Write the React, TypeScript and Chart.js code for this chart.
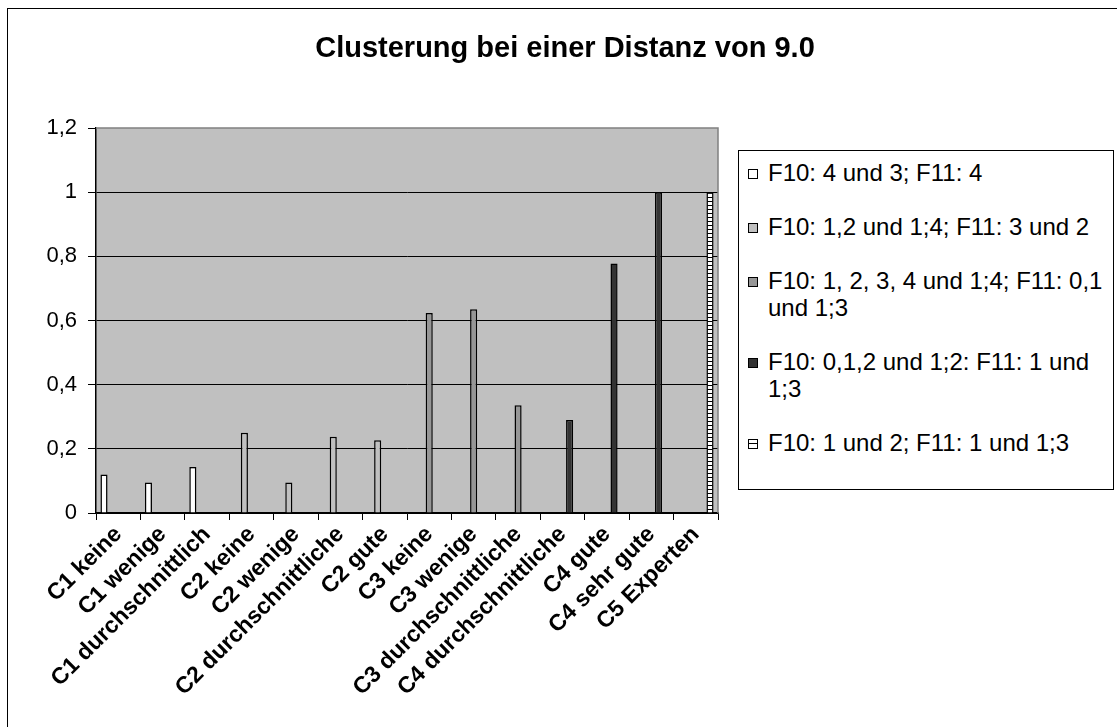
import React, { useEffect, useRef } from "react";
import { Chart, registerables } from "chart.js";

Chart.register(...registerables);

const TITLE = "Clusterung bei einer Distanz von 9.0";

const categories = [
  "C1 keine",
  "C1 wenige",
  "C1 durchschnittlich",
  "C2 keine",
  "C2 wenige",
  "C2 durchschnittliche",
  "C2 gute",
  "C3 keine",
  "C3 wenige",
  "C3 durchschnittliche",
  "C4 durchschnittliche",
  "C4 gute",
  "C4 sehr gute",
  "C5 Experten",
];

const seriesNames = [
  "F10: 4 und 3; F11: 4",
  "F10: 1,2 und 1;4; F11: 3 und 2",
  "F10: 1, 2, 3, 4 und 1;4; F11: 0,1 und 1;3",
  "F10: 0,1,2 und 1;2: F11: 1 und 1;3",
  "F10: 1 und 2; F11: 1 und 1;3",
];

const series1 = [0.12, 0.095, 0.143, null, null, null, null, null, null, null, null, null, null, null];
const series2 = [null, null, null, 0.25, 0.095, 0.238, 0.227, null, null, null, null, null, null, null];
const series3 = [null, null, null, null, null, null, null, 0.623, 0.635, 0.336, null, null, null, null];
const series4 = [null, null, null, null, null, null, null, null, null, null, 0.29, 0.778, 1.0, null];
const series5 = [null, null, null, null, null, null, null, null, null, null, null, null, null, 1.0];

const yTicks = [0, 0.2, 0.4, 0.6, 0.8, 1, 1.2];

const seriesColors = ["#ffffff", "#c0c0c0", "#969696", "#333333", "pattern"];

const FONT = "'Liberation Sans', Arial, sans-serif";

export default function App() {
  const ref = useRef<HTMLCanvasElement>(null);

  useEffect(() => {
    const canvas = ref.current!;
    const tile = document.createElement("canvas");
    tile.width = 4;
    tile.height = 4;
    const tctx = tile.getContext("2d")!;
    tctx.fillStyle = "#ffffff";
    tctx.fillRect(0, 0, 4, 4);
    tctx.fillStyle = "#000000";
    tctx.fillRect(0, 0, 4, 1);
    const pattern = canvas.getContext("2d")!.createPattern(tile, "repeat");

    const allSeries = [series1, series2, series3, series4, series5];

    const plotBg = {
      id: "plotBg",
      beforeDraw(chart: any) {
        const { ctx, chartArea } = chart;
        ctx.save();
        ctx.fillStyle = "#c0c0c0";
        ctx.fillRect(chartArea.left, chartArea.top, chartArea.right - chartArea.left, chartArea.bottom - chartArea.top);
        ctx.restore();
      },
      afterDraw(chart: any) {
        const { ctx, chartArea } = chart;
        ctx.save();
        ctx.strokeStyle = "#808080";
        ctx.lineWidth = 1.5;
        ctx.beginPath();
        ctx.moveTo(chartArea.left, chartArea.top);
        ctx.lineTo(chartArea.right, chartArea.top);
        ctx.lineTo(chartArea.right, chartArea.bottom);
        ctx.stroke();
        ctx.restore();
      },
    };

    const chart = new Chart(canvas, {
      type: "bar",
      data: {
        labels: categories,
        datasets: allSeries.map((s, i) => ({
          label: seriesNames[i],
          data: s,
          backgroundColor: seriesColors[i] === "pattern" ? (pattern as any) : seriesColors[i],
          borderColor: "#000000",
          borderWidth: 1.5,
          categoryPercentage: 0.8,
          barPercentage: 1.0,
          yAxisID: "y",
        })),
      },
      options: {
        animation: false,
        responsive: false,
        layout: { padding: 0 },
        plugins: {
          legend: { display: false },
          tooltip: { enabled: false },
          title: {
            display: true,
            text: TITLE,
            color: "#000000",
            font: { family: FONT, size: 29, weight: "bold", lineHeight: 1.2 },
            padding: { top: 22.6, bottom: 61.6 },
          },
        },
        scales: {
          x: {
            offset: true,
            grid: {
              offset: true,
              drawOnChartArea: false,
              drawTicks: true,
              tickLength: 7,
              tickColor: "#000000",
              lineWidth: 1,
            },
            border: { display: true, color: "#000000", width: 1.5 },
            ticks: {
              autoSkip: false,
              maxRotation: 45,
              minRotation: 45,
              color: "#000000",
              font: { family: FONT, size: 23, weight: "bold" },
              padding: 1,
            },
            afterFit(scale: any) {
              scale.height = 214;
            },
          },
          y: {
            min: 0,
            max: 1.2,
            afterBuildTicks(scale: any) {
              scale.ticks = yTicks.map((v) => ({ value: v }));
            },
            grid: {
              color: (ctx: any) => (ctx.tick && ctx.tick.value === 1.2 ? "rgba(0,0,0,0)" : "#000000"),
              tickColor: "#000000",
              tickLength: 8,
              lineWidth: 1,
            },
            border: { display: true, color: "#000000", width: 1.5 },
            ticks: {
              color: "#000000",
              font: { family: FONT, size: 22 },
              padding: 11,
              callback: (v: any) => String(Math.round(Number(v) * 10) / 10).replace(".", ","),
            },
            afterFit(scale: any) {
              scale.width = 88;
            },
          },
          legendSpace: {
            type: "linear",
            position: "right",
            display: true,
            grid: { display: false, drawTicks: false },
            border: { display: false },
            ticks: { display: false },
            afterFit(scale: any) {
              scale.width = 404;
            },
          },
        },
      },
      plugins: [plotBg],
    });
    return () => chart.destroy();
  }, []);

  const marker = (i: number): React.CSSProperties => {
    const base: React.CSSProperties = {
      width: 10,
      height: 10,
      border: "1px solid #000",
      boxSizing: "border-box",
      flex: "0 0 auto",
      marginTop: 10,
      marginRight: 10,
    };
    if (seriesColors[i] === "pattern") {
      base.background = "linear-gradient(to bottom, #fff 0, #fff 3px, #000 3px, #000 4px, #fff 4px)";
    } else {
      base.background = seriesColors[i];
    }
    return base;
  };

  return (
    <div
      style={{
        position: "absolute",
        left: 7,
        top: 8,
        width: 1110,
        height: 719,
        borderLeft: "1px solid #000",
        borderTop: "1px solid #000",
        boxSizing: "border-box",
        background: "#fff",
        overflow: "hidden",
      }}
    >
      <canvas ref={ref} width={1114} height={718} style={{ display: "block" }} />
      <div
        style={{
          position: "absolute",
          left: 730,
          top: 141,
          width: 376,
          height: 340,
          border: "1px solid #000",
          boxSizing: "border-box",
          background: "#fff",
          fontFamily: FONT,
          fontSize: 24,
          lineHeight: "27px",
          color: "#000",
          padding: "8px 0 0 9px",
          display: "flex",
          flexDirection: "column",
          gap: 27,
        }}
      >
        {seriesNames.map((name, i) => (
          <div key={i} style={{ display: "flex", alignItems: "flex-start" }}>
            <div style={marker(i)} />
            <div style={{ width: 342 }}>{name}</div>
          </div>
        ))}
      </div>
    </div>
  );
}
